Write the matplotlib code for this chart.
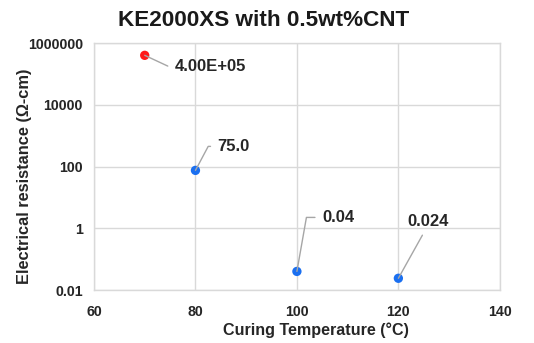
import matplotlib
matplotlib.use("Agg")
import matplotlib.pyplot as plt
from matplotlib.ticker import FixedLocator, FixedFormatter, NullLocator

plt.rcParams['font.family'] = ['Liberation Sans', 'DejaVu Sans']

temps = [70, 80, 100, 120]
resist = [4.0e5, 75.0, 0.04, 0.024]
labels = ["4.00E+05", "75.0", "0.04", "0.024"]
colors = ["#ff1a1a", "#1a6ff0", "#1a6ff0", "#1a6ff0"]
yticks = [0.01, 1, 100, 10000, 1000000]
yticklabels = ["0.01", "1", "100", "10000", "1000000"]
xticks = [60, 80, 100, 120, 140]

fig = plt.figure(figsize=(5.34, 3.43), dpi=100)
ax = fig.add_axes([0.176, 0.1545, 0.76, 0.72])

ax.set_yscale('log')
ax.set_xlim(60, 140)
ax.set_ylim(0.01, 1000000)
ax.yaxis.set_major_locator(FixedLocator(yticks))
ax.yaxis.set_major_formatter(FixedFormatter(yticklabels))
ax.yaxis.set_minor_locator(NullLocator())
ax.set_xticks(xticks)
ax.grid(True, color='#d9d9d9', linewidth=1.0)
ax.set_axisbelow(True)
for s in ax.spines.values():
    s.set_color('#d9d9d9')
    s.set_linewidth(1.0)
ax.tick_params(axis='y', length=0, labelsize=10.2, pad=8)
ax.tick_params(axis='x', length=0, labelsize=10.2, pad=11)
for lab in ax.get_xticklabels() + ax.get_yticklabels():
    lab.set_fontweight('bold')
    lab.set_color('#262626')

ax.scatter(temps, resist, c=colors, s=45, zorder=3, edgecolors='none')

# label offsets (pixels) and leader styles
offsets = [(30, -11), (22, 24), (25, 54), (9, 57)]
relpos = [(0, 0.5), (0, 0.5), (0, 0.5), (0.45, 0.0)]
conns = ["angle,angleA=0,angleB=-25,rad=0", "angle,angleA=0,angleB=62,rad=0",
         "angle,angleA=0,angleB=80,rad=0", "arc3,rad=0"]
for x, y, t, off, rp, cs in zip(temps, resist, labels, offsets, relpos, conns):
    ax.annotate(t, xy=(x, y), xytext=off, textcoords='offset pixels',
                ha='left', va='center', fontsize=12, fontweight='bold',
                color='#262626',
                arrowprops=dict(arrowstyle='-', color='#a6a6a6', lw=1.0,
                                relpos=rp, connectionstyle=cs,
                                shrinkA=3, shrinkB=0))

fig.text(0.493, 1 - 21 / 343, "KE2000XS with 0.5wt%CNT", fontsize=16.2,
         fontweight='bold', color='#1a1a1a', ha='center', va='center')
ax.set_xlabel("Curing Temperature (°C)", fontsize=11.6, fontweight='bold',
              color='#262626')
ax.xaxis.set_label_coords(0.547, -(330 - 290) / 247)
ax.xaxis.label.set_va('center')
ax.set_ylabel("Electrical resistance (Ω-cm)", fontsize=11.8, fontweight='bold',
              color='#262626')
ax.yaxis.set_label_coords(-(94 - 24) / 406, 0.46)
ax.yaxis.label.set_va('center')

fig.savefig("out.png", dpi=100)
